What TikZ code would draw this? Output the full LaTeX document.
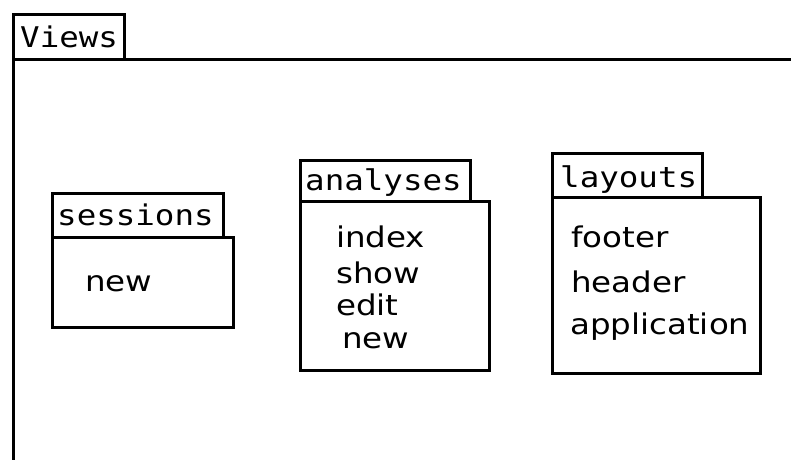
\documentclass[tikz,border=0pt]{standalone}
\usepackage{fontspec}
\newfontfamily\tabfont[FakeStretch=1.14]{DejaVu Sans Mono}
\newfontfamily\itemfont[FakeStretch=1.14]{DejaVu Sans}
\begin{document}
\begin{tikzpicture}[x=1pt,y=-1pt,
  frame/.style={draw=black,line width=3pt,line join=miter},
  tablabel/.style={anchor=base west,inner sep=0pt,font=\tabfont\fontsize{28.5}{30}\selectfont},
  itemlabel/.style={anchor=base west,inner sep=0pt,font=\itemfont\fontsize{28.5}{30}\selectfont}]
\useasboundingbox[fill=white] (0,0) rectangle (791,459);
% outer package Views
\draw[frame] (13,14) rectangle (124,59);
\draw[frame] (13,470) -- (13,59) -- (800,59);
\node[tablabel] (views) at (20,47) {Views};
% sessions
\draw[frame] (52,193) rectangle (223,237);
\draw[frame] (52,237) rectangle (233,327);
\node[tablabel] (sessions) at (57,225) {sessions};
\node[itemlabel] (snew) at (85,291) {new};
% analyses
\draw[frame] (300,160) rectangle (470,201);
\draw[frame] (300,201) rectangle (489,370);
\node[tablabel] (analyses) at (305,190) {analyses};
\node[itemlabel] (aindex) at (336,247) {index};
\node[itemlabel] (ashow) at (336,283) {show};
\node[itemlabel] (aedit) at (336,315) {edit};
\node[itemlabel] (anew) at (342,348) {new};
% layouts
\draw[frame] (552,153) rectangle (702,197);
\draw[frame] (552,197) rectangle (760,373);
\node[tablabel] (layouts) at (560,187) {layouts};
\node[itemlabel] (lfooter) at (571,247) {footer};
\node[itemlabel] (lheader) at (571,292) {header};
\node[itemlabel] (lapp) at (570,334) {application};
\end{tikzpicture}
\end{document}
